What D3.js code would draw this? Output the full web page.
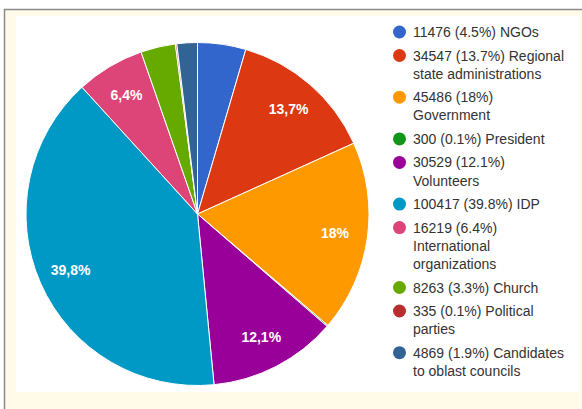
<!DOCTYPE html>
<html>
<head>
<meta charset="utf-8">
<script src="https://cdn.jsdelivr.net/npm/d3@7"></script>
<style>
  html, body { margin: 0; padding: 0; background: #ffffff; }
  body { width: 582px; height: 409px; overflow: hidden; position: relative; }
  svg { position: absolute; left: 0; top: 0; }
  text { font-family: "Liberation Sans", Arial, sans-serif; }
</style>
</head>
<body>
<svg id="chart" width="582" height="409"></svg>
<script>
// Who helps: counts per source
const categories = [
  "NGOs", "Regional state administrations", "Government", "President",
  "Volunteers", "IDP", "International organizations", "Church",
  "Political parties", "Candidates to oblast councils"
];
const values = [11476, 34547, 45486, 300, 30529, 100417, 16219, 8263, 335, 4869];
const colors = [
  "#3366cc", "#dc3912", "#ff9900", "#109618", "#990099",
  "#0099c6", "#dd4477", "#66aa00", "#b82e2e", "#316395"
];

const svg = d3.select("#chart");

// framed panel
svg.append("rect").attr("x", 4).attr("y", 9).attr("width", 600).attr("height", 420)
  .attr("fill", "#fffbe8");
svg.append("line").attr("x1", 4.5).attr("y1", 9).attr("x2", 4.5).attr("y2", 409)
  .attr("stroke", "#8a8a8a").attr("stroke-width", 1.5);
svg.append("line").attr("x1", 4).attr("y1", 9.5).attr("x2", 582).attr("y2", 9.5)
  .attr("stroke", "#8a8a8a").attr("stroke-width", 1.5);
svg.append("rect").attr("x", 16).attr("y", 16).attr("width", 563).attr("height", 376)
  .attr("fill", "#ffffff");

const total = d3.sum(values);
const pctFmt = d3.format(".1~f");
const pct = v => pctFmt(v / total * 100);

const cx = 197.5, cy = 214, radius = 171.5;

const pie = d3.pie().sort(null).value(d => d);
const arcs = pie(values);
const arc = d3.arc().innerRadius(0).outerRadius(radius);
const labelArc = d3.arc().innerRadius(radius * 0.81).outerRadius(radius * 0.81);

const g = svg.append("g").attr("transform", `translate(${cx},${cy})`);

g.selectAll("path.slice")
  .data(arcs)
  .join("path")
  .attr("class", "slice")
  .attr("d", arc)
  .attr("fill", (d, i) => colors[i])
  .attr("stroke", "#ffffff")
  .attr("stroke-width", 1);

// percentage labels on slices wide enough to hold them
g.selectAll("text.slice-label")
  .data(arcs.filter(d => d.value / total >= 0.05))
  .join("text")
  .attr("class", "slice-label")
  .attr("transform", d => {
    const [x, y] = labelArc.centroid(d);
    return `translate(${x},${y + 5})`;
  })
  .attr("text-anchor", "middle")
  .attr("fill", "#ffffff")
  .attr("font-size", 14)
  .attr("font-weight", "bold")
  .text(d => pct(d.value).replace(".", ",") + "%");

// legend
const legend = svg.append("g");
const legendX = 413, circleX = 399.5, lineH = 18.2, entryGap = 5.3, maxW = 160;
let y = 32;

categories.forEach((cat, i) => {
  const words = `${values[i]} (${pct(values[i])}%) ${cat}`.split(" ");
  const t = legend.append("text")
    .attr("x", legendX)
    .attr("font-size", 14)
    .attr("fill", "#333333");
  const lines = [];
  let line = [];
  const probe = t.append("tspan");
  words.forEach(w => {
    const trial = line.concat(w).join(" ");
    probe.text(trial);
    if (line.length && probe.node().getComputedTextLength() > maxW) {
      lines.push(line.join(" "));
      line = [w];
    } else {
      line.push(w);
    }
  });
  lines.push(line.join(" "));
  probe.remove();

  legend.append("circle")
    .attr("cx", circleX).attr("cy", y)
    .attr("r", 6.5)
    .attr("fill", colors[i]);

  lines.forEach((ln, k) => {
    t.append("tspan")
      .attr("x", legendX)
      .attr("y", y + 5 + k * lineH)
      .text(ln);
  });
  y += lines.length * lineH + entryGap;
});
</script>
</body>
</html>
